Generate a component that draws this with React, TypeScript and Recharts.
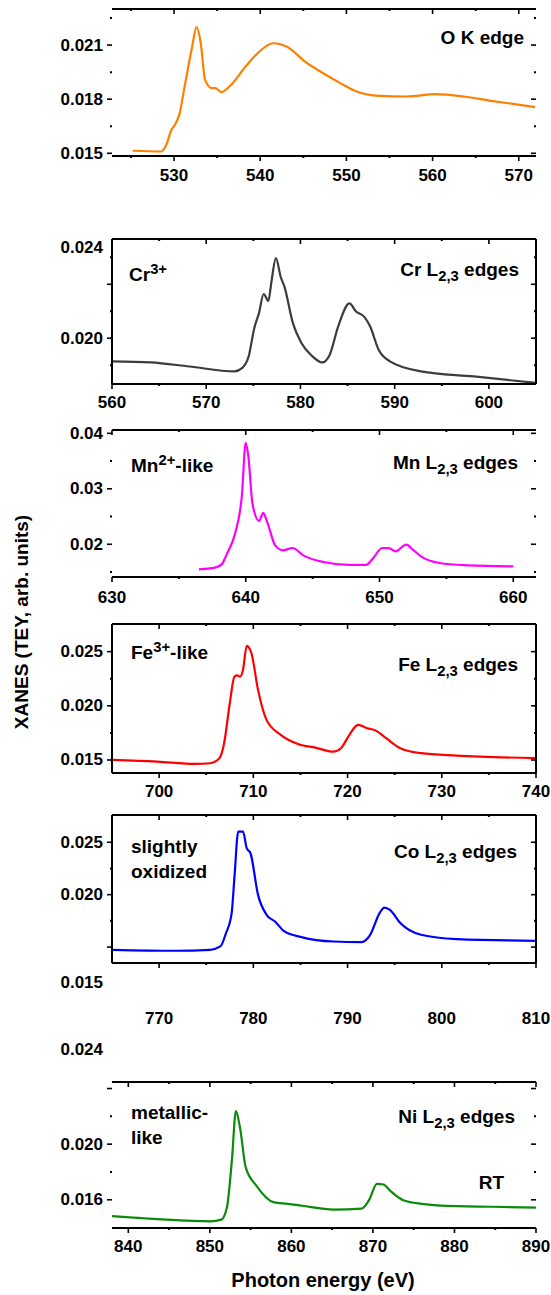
import React from "react";
import { LineChart, Line, XAxis, YAxis } from "recharts";

const FONT = '"Liberation Sans", Arial, Helvetica, sans-serif';
const W = 551;
const PLOT_L = 112;
const PLOT_R = 536;

// ---- O K edge ----
const O_K_ENERGY = [525.2, 528.5, 529.1, 529.7, 530.1, 530.6, 531.3, 532.1, 532.6, 533.1, 533.6, 534.4, 534.8, 535.5, 536.6, 538.3, 539.9, 541.5, 543.2, 545.2, 547.3, 549.3, 550.9, 553.8, 557.0, 560.3, 563.6, 566.8, 571.9];
const O_K_XANES = [0.01514, 0.0151, 0.01547, 0.0163, 0.01658, 0.01713, 0.01889, 0.02091, 0.02199, 0.0211, 0.01907, 0.01861, 0.01861, 0.01839, 0.01879, 0.01981, 0.02064, 0.0211, 0.02088, 0.02008, 0.01944, 0.01889, 0.01848, 0.01818, 0.01815, 0.01828, 0.01815, 0.01791, 0.01756];
const O_K_X_MAJOR = [530, 540, 550, 560, 570];
const O_K_X_MINOR = [525, 535, 545, 555, 565];
const O_K_Y_MAJOR = [0.015, 0.018, 0.021];
const O_K_Y_MINOR = [0.0165, 0.0195, 0.0225];
const O_K_Y_LABELLED = [0.015, 0.018, 0.021];

// ---- Cr L2,3 ----
const CR_ENERGY = [560, 564.1, 568.2, 573.0, 573.8, 574.5, 575.1, 575.6, 576.1, 576.6, 576.9, 577.4, 577.9, 578.3, 579.2, 580.1, 581.2, 582.3, 583.1, 584.0, 585.2, 585.9, 586.8, 587.4, 588.3, 589.5, 592.8, 598.4, 605];
const CR_XANES = [0.01914, 0.0191, 0.01895, 0.01877, 0.01889, 0.01932, 0.02037, 0.02093, 0.02164, 0.02138, 0.02204, 0.02297, 0.02228, 0.02191, 0.02056, 0.01982, 0.01935, 0.0191, 0.01938, 0.02043, 0.02129, 0.02099, 0.02078, 0.02043, 0.01957, 0.01914, 0.01877, 0.01858, 0.01834];
const CR_X_MAJOR = [560, 570, 580, 590, 600];
const CR_X_MINOR = [565, 575, 585, 595];
const CR_Y_MAJOR = [0.02, 0.022];
const CR_Y_MINOR = [0.019, 0.021, 0.023];
const CR_Y_LABELLED = [0.02];

// ---- Mn L2,3 ----
const MN_ENERGY = [636.5, 637.7, 638.2, 638.6, 639.2, 639.7, 640.0, 640.2, 640.5, 641.0, 641.3, 641.6, 642.2, 642.8, 643.5, 644.3, 645.8, 647.7, 649.0, 649.5, 650.2, 650.7, 651.2, 652.0, 652.5, 653.1, 654.5, 656.6, 660.0];
const MN_XANES = [0.01548, 0.01578, 0.01638, 0.01831, 0.02193, 0.02854, 0.0383, 0.03577, 0.02735, 0.0242, 0.02565, 0.02403, 0.01981, 0.01891, 0.01933, 0.018, 0.0168, 0.0163, 0.0163, 0.01741, 0.01933, 0.0193, 0.01873, 0.01994, 0.01904, 0.01782, 0.01662, 0.0162, 0.016];
const MN_X_MAJOR = [630, 640, 650, 660];
const MN_X_MINOR = [635, 645, 655];
const MN_Y_MAJOR = [0.02, 0.03, 0.04];
const MN_Y_MINOR = [0.015, 0.025, 0.035];
const MN_Y_LABELLED = [0.02, 0.03, 0.04];

// ---- Fe L2,3 ----
const FE_ENERGY = [695, 699.8, 703.9, 705.4, 706.4, 706.9, 707.5, 708.0, 708.3, 708.6, 708.9, 709.3, 709.8, 710.5, 711.4, 712.9, 714.8, 716.6, 718.5, 719.3, 720.2, 721.1, 722.1, 723.0, 724.1, 725.6, 727.8, 731.6, 740];
const FE_XANES = [0.01501, 0.01485, 0.01464, 0.0147, 0.01517, 0.01655, 0.02024, 0.02269, 0.0228, 0.02269, 0.0233, 0.02553, 0.02485, 0.02147, 0.0187, 0.01732, 0.01646, 0.01614, 0.01577, 0.01609, 0.01732, 0.01824, 0.01793, 0.01771, 0.01701, 0.01609, 0.01563, 0.01541, 0.01517];
const FE_X_MAJOR = [700, 710, 720, 730, 740];
const FE_X_MINOR = [705, 715, 725, 735];
const FE_Y_MAJOR = [0.015, 0.02, 0.025];
const FE_Y_MINOR = [0.0175, 0.0225];
const FE_Y_LABELLED = [0.015, 0.02, 0.025];

// ---- Co L2,3 ----
const CO_ENERGY = [765, 771.7, 775.4, 776.5, 777.1, 777.7, 778.0, 778.4, 778.9, 779.3, 779.7, 780.5, 781.4, 782.3, 783.3, 785.1, 788.5, 791.5, 792.4, 793.4, 793.9, 794.5, 795.6, 797.8, 801.6, 810];
const CO_XANES = [0.01474, 0.01465, 0.01474, 0.01506, 0.01633, 0.01824, 0.02172, 0.02601, 0.02601, 0.02443, 0.02395, 0.01998, 0.01808, 0.01744, 0.01649, 0.01595, 0.01553, 0.01548, 0.01617, 0.01824, 0.01877, 0.01855, 0.01729, 0.01617, 0.01576, 0.0156];
const CO_X_MAJOR = [770, 780, 790, 800, 810];
const CO_X_MINOR = [775, 785, 795, 805];
const CO_Y_MAJOR = [0.015, 0.02, 0.025];
const CO_Y_MINOR = [0.0175, 0.0225];
const CO_Y_LABELLED = [0.02, 0.025];

// ---- Ni L2,3 ----
const NI_ENERGY = [838, 843.6, 850.1, 851.4, 852.1, 852.7, 853.2, 853.7, 854.4, 855.7, 857.8, 859.6, 861.3, 865.2, 868.6, 869.5, 870.5, 871.3, 872.1, 873.8, 876.0, 880.3, 884.7, 890];
const NI_XANES = [0.01483, 0.01461, 0.01445, 0.01457, 0.01547, 0.01881, 0.02238, 0.02119, 0.01833, 0.01702, 0.01583, 0.01571, 0.01557, 0.01529, 0.01536, 0.01595, 0.01714, 0.0171, 0.01666, 0.01595, 0.01571, 0.01554, 0.0155, 0.01543];
const NI_X_MAJOR = [840, 850, 860, 870, 880, 890];
const NI_X_MINOR = [845, 855, 865, 875, 885];
const NI_Y_MAJOR = [0.016, 0.02, 0.024];
const NI_Y_MINOR = [0.018, 0.022];
const NI_Y_LABELLED = [0.016, 0.02];

const near = (a: number, b: number) => Math.abs(a - b) < 1e-9;

type Side = "bottom" | "top" | "left" | "right";

function makeTick(side: Side, major: number[], labelled: number[], digits: number, labelGap: number) {
  return (props: any) => {
    const { x, y, payload } = props;
    const v = payload.value as number;
    const isMajor = major.some((m) => near(m, v));
    const len = isMajor ? 5 : 2;
    const w = isMajor ? 1.6 : 2;
    let mark;
    if (side === "bottom" || side === "top") mark = <line x1={x} y1={y} x2={x} y2={y + len} stroke="#000" strokeWidth={w} />;
    else mark = <line x1={x - len} y1={y} x2={x} y2={y} stroke="#000" strokeWidth={w} />;
    const hasLabel = labelled.some((m) => near(m, v));
    let label = null;
    if (hasLabel && side === "bottom") {
      label = (
        <text x={x} y={y + labelGap} textAnchor="middle" dominantBaseline="central" fontFamily={FONT} fontWeight="bold" fontSize={17} fill="#000">
          {v.toFixed(digits)}
        </text>
      );
    } else if (hasLabel && side === "left") {
      label = (
        <text x={x - 9} y={y} textAnchor="end" dominantBaseline="central" fontFamily={FONT} fontWeight="bold" fontSize={17} fill="#000">
          {v.toFixed(digits)}
        </text>
      );
    }
    return (
      <g>
        {mark}
        {label}
      </g>
    );
  };
}

const PANELS = [
  { id: "o", top: 9, bottom: 156, xDomain: [522.8, 572], yDomain: [0.01485, 0.023], color: "#ff8000", leftSpine: false, rightSpine: false, xGap: 19, yDigits: 3, energy: O_K_ENERGY, xanes: O_K_XANES, xMajor: O_K_X_MAJOR, xMinor: O_K_X_MINOR, yMajor: O_K_Y_MAJOR, yMinor: O_K_Y_MINOR, yLabelled: O_K_Y_LABELLED },
  { id: "cr", top: 239, bottom: 384, xDomain: [560, 605], yDomain: [0.0183, 0.02368], color: "#3c3c3c", leftSpine: true, rightSpine: true, xGap: 18, yDigits: 3, energy: CR_ENERGY, xanes: CR_XANES, xMajor: CR_X_MAJOR, xMinor: CR_X_MINOR, yMajor: CR_Y_MAJOR, yMinor: CR_Y_MINOR, yLabelled: CR_Y_LABELLED },
  { id: "mn", top: 430, bottom: 577, xDomain: [630, 661.7], yDomain: [0.0141, 0.0406], color: "#ff00ff", leftSpine: false, rightSpine: false, xGap: 20, yDigits: 2, energy: MN_ENERGY, xanes: MN_XANES, xMajor: MN_X_MAJOR, xMinor: MN_X_MINOR, yMajor: MN_Y_MAJOR, yMinor: MN_Y_MINOR, yLabelled: MN_Y_LABELLED },
  { id: "fe", top: 624, bottom: 773, xDomain: [695, 740], yDomain: [0.0138, 0.02755], color: "#ff0000", leftSpine: true, rightSpine: true, xGap: 18, yDigits: 3, energy: FE_ENERGY, xanes: FE_XANES, xMajor: FE_X_MAJOR, xMinor: FE_X_MINOR, yMajor: FE_Y_MAJOR, yMinor: FE_Y_MINOR, yLabelled: FE_Y_LABELLED },
  { id: "co", top: 815, bottom: 963, xDomain: [765, 810], yDomain: [0.01348, 0.0276], color: "#0000ff", leftSpine: true, rightSpine: true, xGap: 55, yDigits: 3, energy: CO_ENERGY, xanes: CO_XANES, xMajor: CO_X_MAJOR, xMinor: CO_X_MINOR, yMajor: CO_Y_MAJOR, yMinor: CO_Y_MINOR, yLabelled: CO_Y_LABELLED },
  { id: "ni", top: 1082, bottom: 1228, xDomain: [838, 890], yDomain: [0.01397, 0.02447], color: "#0b8a0b", leftSpine: false, rightSpine: false, xGap: 18, yDigits: 3, energy: NI_ENERGY, xanes: NI_XANES, xMajor: NI_X_MAJOR, xMinor: NI_X_MINOR, yMajor: NI_Y_MAJOR, yMinor: NI_Y_MINOR, yLabelled: NI_Y_LABELLED },
];

const MT = 12;
const MB = 70;

function Panel({ p }: { p: (typeof PANELS)[number] }) {
  const data = p.energy.map((e, i) => ({ e, v: p.xanes[i] }));
  const xTicks = [...p.xMajor, ...p.xMinor].sort((a, b) => a - b);
  const yTicks = [...p.yMajor, ...p.yMinor].sort((a, b) => a - b);
  const h = p.bottom - p.top + MT + MB;
  const spine = { stroke: "#000", strokeWidth: 2 };
  const none = { stroke: "none" };
  return (
    <div style={{ position: "absolute", left: 0, top: p.top - MT }}>
      <LineChart width={W} height={h} data={data} margin={{ top: MT - 1, right: W - PLOT_R - 1, bottom: MB - 1, left: PLOT_L - 1 }}>
        <XAxis xAxisId="b" dataKey="e" type="number" domain={p.xDomain} allowDataOverflow ticks={xTicks} interval={0} height={1} tickSize={0} tickMargin={0} tickLine={false} axisLine={spine} tick={makeTick("bottom", p.xMajor, p.xMajor, 0, p.xGap)} />
        <XAxis xAxisId="t" orientation="top" dataKey="e" type="number" domain={p.xDomain} allowDataOverflow ticks={xTicks} interval={0} height={1} tickSize={0} tickMargin={0} tickLine={false} axisLine={spine} tick={makeTick("top", p.xMajor, [], 0, 0)} />
        <YAxis yAxisId="l" type="number" domain={p.yDomain} allowDataOverflow ticks={yTicks} interval={0} width={1} tickSize={0} tickMargin={0} tickLine={false} axisLine={p.leftSpine ? spine : none} tick={makeTick("left", p.yMajor, p.yLabelled, p.yDigits, 0)} />
        <YAxis yAxisId="r" orientation="right" type="number" domain={p.yDomain} allowDataOverflow ticks={yTicks} interval={0} width={1} tickSize={0} tickMargin={0} tickLine={false} axisLine={p.rightSpine ? spine : none} tick={makeTick("right", p.yMajor, [], p.yDigits, 0)} />
        <Line xAxisId="b" yAxisId="l" type="monotone" dataKey="v" stroke={p.color} strokeWidth={2.2} dot={false} isAnimationActive={false} />
        <Line xAxisId="t" yAxisId="r" type="monotone" dataKey="v" stroke="none" dot={false} isAnimationActive={false} legendType="none" />
      </LineChart>
    </div>
  );
}

const txt: React.CSSProperties = {
  position: "absolute",
  fontFamily: FONT,
  fontWeight: "bold",
  fontSize: 19,
  lineHeight: "20px",
  color: "#000",
  whiteSpace: "nowrap",
  transform: "translateY(-50%)",
};
const sup: React.CSSProperties = { fontSize: "0.78em", position: "relative", top: "-0.45em" };
const sub: React.CSSProperties = { fontSize: "0.78em", position: "relative", top: "0.35em" };

function LeftText({ x, y, children }: { x: number; y: number; children: React.ReactNode }) {
  return <div style={{ ...txt, left: x, top: y }}>{children}</div>;
}
function RightText({ x, y, children, size }: { x: number; y: number; children: React.ReactNode; size?: number }) {
  return <div style={{ ...txt, right: W - x, top: y, fontSize: size ?? 19 }}>{children}</div>;
}

export default function App() {
  return (
    <div style={{ position: "absolute", left: 0, top: 0, width: W, height: 1295, background: "#fff", overflow: "hidden" }}>
      {PANELS.map((p) => (
        <Panel key={p.id} p={p} />
      ))}

      <RightText x={524} y={38}>O K edge</RightText>

      <LeftText x={129} y={275}>Cr<span style={sup}>3+</span></LeftText>
      <RightText x={519} y={270}>Cr L<span style={sub}>2,3</span> edges</RightText>
      <RightText x={103} y={248} size={17}>0.024</RightText>

      <LeftText x={131} y={466}>Mn<span style={sup}>2+</span>-like</LeftText>
      <RightText x={518} y={463}>Mn L<span style={sub}>2,3</span> edges</RightText>

      <LeftText x={131} y={653}>Fe<span style={sup}>3+</span>-like</LeftText>
      <RightText x={518} y={665}>Fe L<span style={sub}>2,3</span> edges</RightText>

      <LeftText x={131} y={847}>slightly</LeftText>
      <LeftText x={131} y={872}>oxidized</LeftText>
      <RightText x={517} y={852}>Co L<span style={sub}>2,3</span> edges</RightText>
      <RightText x={103} y={983} size={17}>0.015</RightText>
      <RightText x={103} y={1050} size={17}>0.024</RightText>

      <LeftText x={131} y={1113}>metallic-</LeftText>
      <LeftText x={131} y={1138}>like</LeftText>
      <RightText x={515} y={1117}>Ni L<span style={sub}>2,3</span> edges</RightText>
      <RightText x={504} y={1183}>RT</RightText>

      <div style={{ ...txt, left: 323, top: 1280, fontSize: 20, transform: "translate(-50%, -50%)" }}>Photon energy (eV)</div>
      <div style={{ ...txt, left: 22, top: 622, fontSize: 19, transform: "translate(-50%, -50%) rotate(-90deg)" }}>XANES (TEY, arb. units)</div>
    </div>
  );
}
